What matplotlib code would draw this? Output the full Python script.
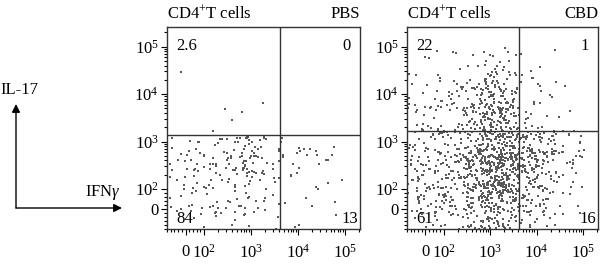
import numpy as np
import matplotlib
matplotlib.use("Agg")
from matplotlib import pyplot as plt

plt.rcParams['font.family'] = ['Liberation Serif', 'DejaVu Serif']
plt.rcParams['mathtext.fontset'] = 'custom'
plt.rcParams['mathtext.rm'] = 'Liberation Serif'
plt.rcParams['mathtext.it'] = 'Liberation Serif:italic'

# gates (fluorescence units)
gate_x = 4200
gate_y_pbs = 1350
gate_y_cbd = 1700

# bin edges used to read the event density off the picture
x_edges = [-100, 0, 100, 300, 600, 1000, 2000, gate_x, 1e4, 3e4, 1e5, 2.1e5]
y_edges_pbs = [-100, 0, 100, 300, 700, gate_y_pbs, 3000, 1e4, 3e4, 1e5, 2.6e5]
y_edges_cbd = [-100, 0, 100, 300, 700, gate_y_cbd, 3000, 1e4, 3e4, 1e5, 2.6e5]

# events per bin, rows go from bottom (IL-17 low) to top
pbs_counts = [
    [2, 3, 5, 3, 3, 2, 2, 1, 1, 1, 0],
    [4, 5, 6, 5, 5, 4, 3, 1, 2, 1, 0],
    [5, 8, 10, 8, 10, 8, 4, 3, 3, 2, 0],
    [4, 6, 8, 8, 10, 8, 4, 4, 5, 3, 0],
    [2, 3, 4, 5, 7, 6, 2, 2, 3, 1, 0],
    [0, 0, 1, 1, 0, 0, 0, 0, 0, 0, 0],
    [0, 0, 1, 0, 1, 1, 0, 0, 0, 0, 0],
    [1, 0, 0, 0, 0, 0, 0, 0, 0, 0, 0],
    [0, 0, 0, 0, 0, 0, 0, 0, 0, 0, 0],
    [0, 0, 0, 0, 0, 0, 0, 0, 0, 0, 0],
]
cbd_counts = [
    [6, 8, 10, 12, 16, 18, 14, 10, 8, 2, 0],
    [10, 12, 16, 20, 26, 32, 26, 16, 12, 4, 0],
    [14, 16, 24, 32, 42, 55, 40, 24, 20, 6, 0],
    [10, 12, 18, 26, 36, 48, 35, 28, 26, 12, 1],
    [8, 10, 14, 14, 22, 30, 25, 22, 20, 8, 0],
    [4, 5, 7, 8, 12, 18, 14, 3, 2, 0, 0],
    [8, 9, 12, 15, 25, 35, 25, 6, 5, 1, 0],
    [4, 5, 8, 8, 14, 20, 14, 4, 4, 1, 0],
    [1, 2, 3, 3, 4, 6, 4, 2, 2, 0, 0],
    [0, 0, 0, 0, 0, 0, 0, 0, 0, 0, 0],
]

# quadrant percentages: UL, UR, LL, LR
pbs_quads = ['2.6', '0', '84', '13']
cbd_quads = ['22', '1', '61', '16']

tick_vals = [0, 1e2, 1e3, 1e4, 1e5]
tick_text = ['0', r'$10^2$', r'$10^3$', r'$10^4$', r'$10^5$']
minor_vals = [v for v in range(-100, 101, 20) if v != 0]
for d in [1e2, 1e3, 1e4]:
    minor_vals += [k * d for k in range(2, 10)]
minor_vals += [2e5]


def spot(k, salt):
    # deterministic position inside a bin, 0..1
    return (np.sin(k * 12.9898 + salt * 78.233) * 43758.5453) % 1


def events(ax, counts, xe, ye):
    # spread each bin's events over the bin (display space)
    tx = ax.xaxis.get_transform()
    ty = ax.yaxis.get_transform()
    xt = tx.transform(np.array(xe, float))
    yt = ty.transform(np.array(ye, float))
    xs, ys = [], []
    k = 0
    for i, row in enumerate(counts):
        for j, n in enumerate(row):
            for m in range(n):
                k += 1
                xs.append(xt[j] + spot(k, 1.0) * (xt[j + 1] - xt[j]))
                ys.append(yt[i] + spot(k, 2.7) * (yt[i + 1] - yt[i]))
    x = tx.inverted().transform(np.array(xs))
    y = ty.inverted().transform(np.array(ys))
    ax.scatter(x, y, s=0.55, c='0.35', linewidths=0, marker='s')


def panel(ax, counts, ye, gy, quads, title):
    ax.set_xscale('symlog', linthresh=100, linscale=0.355)
    ax.set_yscale('symlog', linthresh=100, linscale=0.38)
    ax.set_xlim(-100, 2.1e5)
    ax.set_ylim(-100, 2.6e5)
    events(ax, counts, x_edges, ye)
    ax.axvline(gate_x, color='0.2', lw=1)
    ax.axhline(gy, color='0.2', lw=1)
    for a in [ax.xaxis, ax.yaxis]:
        a.set_ticks(tick_vals)
        a.set_ticklabels(tick_text)
        a.set_ticks(minor_vals, minor=True)
    ax.tick_params(which='both', direction='out', width=0.8, labelsize=12)
    ax.tick_params(which='major', length=4)
    ax.tick_params(which='minor', length=2)
    ax.tick_params(axis='x', pad=7)
    ax.tick_params(axis='y', pad=2)
    for s in ax.spines.values():
        s.set_color('0.2')
        s.set_linewidth(1)
    ax.text(0.05, 0.905, quads[0], transform=ax.transAxes, fontsize=12, va='center')
    ax.text(0.95, 0.905, quads[1], transform=ax.transAxes, fontsize=12, va='center', ha='right')
    ax.text(0.05, 0.05, quads[2], transform=ax.transAxes, fontsize=12, va='center')
    ax.text(0.99, 0.05, quads[3], transform=ax.transAxes, fontsize=12, va='center', ha='right')
    ax.text(0.0, 1.025, r'CD4$^{+}$T cells', transform=ax.transAxes, fontsize=12, va='bottom')
    ax.text(1.0, 1.025, title, transform=ax.transAxes, fontsize=12, va='bottom', ha='right')


fig = plt.figure(figsize=(6, 2.66), dpi=100)
ax1 = fig.add_axes([167 / 600, 37 / 266, 193 / 600, 202 / 266])
ax2 = fig.add_axes([407 / 600, 37 / 266, 191 / 600, 202 / 266])
panel(ax1, pbs_counts, y_edges_pbs, gate_y_pbs, pbs_quads, 'PBS')
panel(ax2, cbd_counts, y_edges_cbd, gate_y_cbd, cbd_quads, 'CBD')

# axis key on the left
arrow = dict(arrowstyle='-|>', color='black', lw=1, mutation_scale=12, shrinkA=0, shrinkB=0)
fig.add_artist(matplotlib.patches.FancyArrowPatch((16 / 600, 58 / 266), (16 / 600, 162 / 266),
                                                   transform=fig.transFigure, **arrow))
fig.add_artist(matplotlib.patches.FancyArrowPatch((16 / 600, 58 / 266), (122 / 600, 58 / 266),
                                                   transform=fig.transFigure, **arrow))
fig.text(0 / 600, 176 / 266, 'IL-17', fontsize=12, va='center')
fig.text(121 / 600, 74 / 266, r'IFN$\it{\gamma}$', fontsize=12, va='center', ha='right')

fig.savefig('out.png', dpi=100)
